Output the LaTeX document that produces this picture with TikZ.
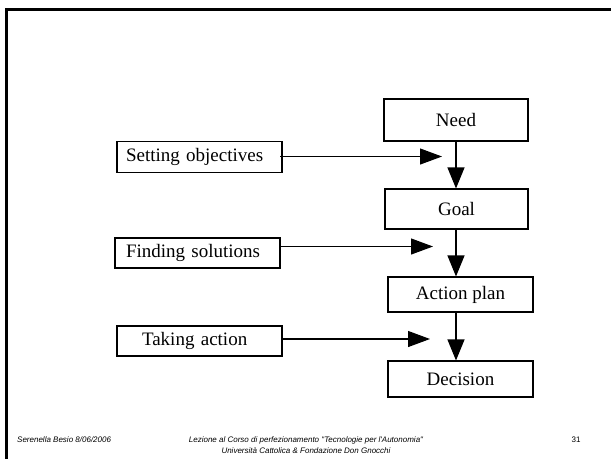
\documentclass[tikz,border=0pt]{standalone}
\usepackage{fontspec}
\setmainfont{Liberation Serif}
\newfontfamily\footfont[Ligatures=TeXOff]{Liberation Sans}
\usetikzlibrary{arrows.meta}
\begin{document}
\begin{tikzpicture}[x=1pt,y=-1pt,
  box/.style={draw,line width=1.1pt,inner sep=0pt,font=\fontsize{19}{22}\selectfont},
  sidebox/.style={box,align=left,anchor=center},
  flow/.style={line width=1.1pt,-{Triangle[length=21pt,width=17pt]}},
  feed/.style={line width=1.1pt,-{Triangle[length=22pt,width=16pt]}},
  foot/.style={font=\footfont\itshape\fontsize{8}{11}\selectfont,inner sep=0pt}]
\useasboundingbox (0,0) rectangle (611,459);
\fill[white] (0,0) rectangle (611,459);
% frame
\draw[line width=3pt] (611,9.5) -- (6.5,9.5) -- (6.5,459);
% main flow boxes
\node[box,minimum width=144pt,minimum height=42pt] (need) at (456,120) {Need};
\node[box,minimum width=143pt,minimum height=40pt] (goal) at (456.5,209) {Goal};
\node[box,minimum width=145pt,minimum height=35pt] (plan) at (460.5,294.5) {Action plan};
\node[box,minimum width=145pt,minimum height=36pt] (dec) at (460.5,379) {Decision};
% side boxes
\node[sidebox,text width=147pt,inner xsep=9pt,minimum height=31pt] (set) at (199.5,157) {Setting objectives};
\node[sidebox,text width=143pt,inner xsep=11pt,minimum height=30pt] (find) at (197.5,253) {Finding solutions};
\node[sidebox,text width=115pt,inner xsep=25pt,minimum height=30pt] (take) at (199.5,341) {Taking action};
% arrow end points
\coordinate (s1) at (280,156.5);
\coordinate (t1) at (442,156.5);
\coordinate (s2) at (280,246.5);
\coordinate (t2) at (433,246.5);
\coordinate (s3) at (282,339);
\coordinate (t3) at (430,339);
% vertical arrows
\draw[flow] (need.south -| 456,0) -- (goal.north -| 456,0);
\draw[flow] (goal.south -| 456,0) -- (plan.north -| 456,0);
\draw[flow] (plan.south -| 456,0) -- (dec.north -| 456,0);
% side arrows
\draw[feed] (s1) -- (t1);
\draw[feed] (s2) -- (t2);
\draw[feed] (s3) -- (t3);
% footer
\node[foot,anchor=base west] (author) at (17,442) {Serenella Besio 8/06/2006};
\node[foot,anchor=base] (title1) at (306,442) {Lezione al Corso di perfezionamento "Tecnologie per l'Autonomia"};
\node[foot,anchor=base] (title2) at (306,453) {Università Cattolica \& Fondazione Don Gnocchi};
\node[foot,font=\footfont\fontsize{8}{11}\selectfont,anchor=base] (page) at (576,442) {31};
\end{tikzpicture}
\end{document}
